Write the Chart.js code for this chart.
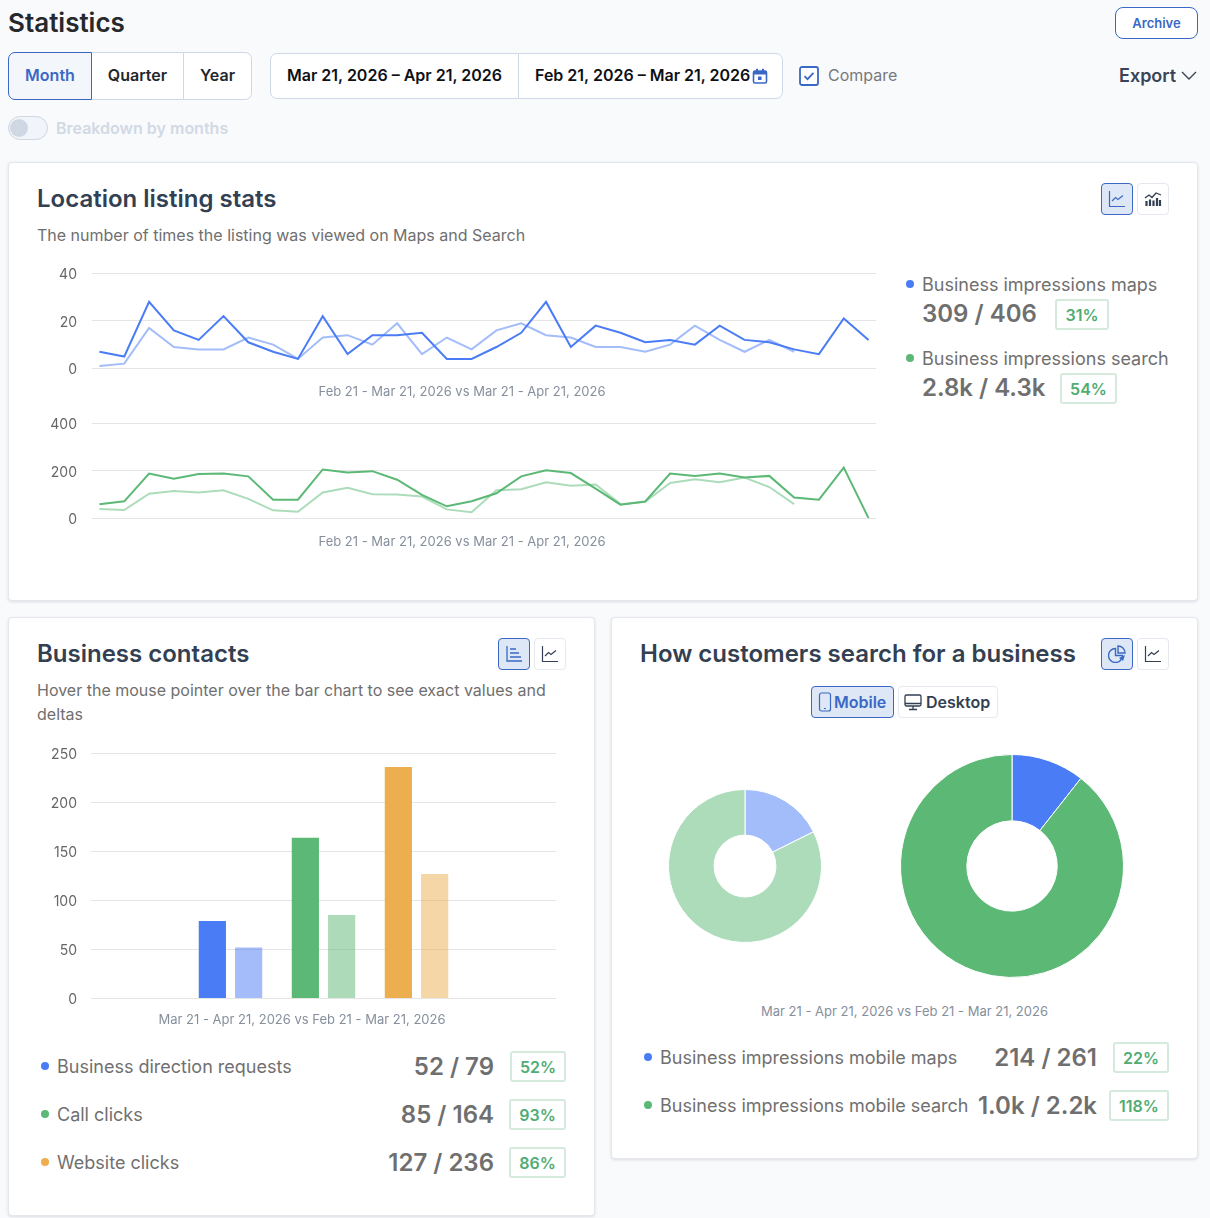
<!DOCTYPE html>
<html>
<head>
<meta charset="utf-8">
<script src="https://cdn.jsdelivr.net/npm/chart.js@4"></script>
<style>
* { box-sizing: border-box; }
html, body { margin: 0; padding: 0; }
body { width: 1210px; height: 1218px; background: #f9fafc; font-family: Inter, sans-serif; position: relative; overflow: hidden; color: #2f3a4d; }
.abs { position: absolute; white-space: nowrap; }
.card { position: absolute; background: #fff; border: 1px solid #e4e7ec; border-radius: 4px; box-shadow: 0 1px 3px rgba(40,50,70,.14); }
.title { font-size: 24px; font-weight: 600; color: #333f52; line-height: 30px; }
.sub { font-size: 16px; color: #6f6f6f; line-height: 24px; }
.seg { position: absolute; display: flex; align-items: center; justify-content: center; font-size: 16px; font-weight: 600; color: #24272c; background: #fff; border: 1px solid #cfd8e6; padding-bottom: 2px; }
.ic { position: absolute; width: 32px; height: 32px; border: 1px solid #e4e8ef; border-radius: 4px; background: #fff; display: flex; align-items: center; justify-content: center; }
.ic.on { background: #dde7f6; border-color: #3b68c4; }
.dot { position: absolute; width: 8px; height: 8px; border-radius: 50%; }
.lab { font-size: 18px; color: #707070; line-height: 24px; }
.val { font-size: 24px; font-weight: 600; color: #6f6f6f; line-height: 30px; }
.badge { position: absolute; height: 31px; border: 2px solid #d5eadd; border-radius: 3px; background: #fff; color: #4fac73; font-size: 16px; font-weight: 600; display: flex; align-items: center; justify-content: center; }
canvas { position: absolute; }
.wrap { position: absolute; }
</style>
</head>
<body>
<div class="abs" style="left:8px;top:7px;font-size:26px;font-weight:600;color:#25282c;line-height:32px">Statistics</div>
<div class="abs" style="left:1115px;top:7px;width:83px;height:32px;border:1px solid #3b68c4;border-radius:8px;background:#fff;color:#3b68c4;font-size:13px;font-weight:600;display:flex;align-items:center;justify-content:center;padding-bottom:1px">Archive</div>

<div class="seg" style="left:91px;top:52px;width:93px;height:48px">Quarter</div>
<div class="seg" style="left:8px;top:52px;width:84px;height:48px;border-radius:7px 0 0 7px;background:#f3f6fb;border-color:#3b68c4;color:#3b68c4">Month</div>
<div class="seg" style="left:183px;top:52px;width:69px;height:48px;border-radius:0 7px 7px 0">Year</div>
<div class="seg" style="left:270px;top:53px;width:249px;height:46px;border-radius:7px 0 0 7px;color:#0e1014">Mar 21, 2026 – Apr 21, 2026</div>
<div class="seg" style="left:518px;top:53px;width:265px;height:46px;border-radius:0 7px 7px 0;border-left:1px solid #cfd8e6;color:#0e1014;justify-content:flex-start;padding-left:16px">Feb 21, 2026 – Mar 21, 2026</div>
<svg class="abs" style="left:752px;top:68px" width="16" height="16" viewBox="0 0 16 16"><rect x="1.5" y="3" width="13" height="12" rx="1.5" fill="none" stroke="#3b68c4" stroke-width="1.6"/><rect x="1.5" y="3" width="13" height="3.5" fill="#3b68c4"/><rect x="4" y="0.8" width="2" height="3" fill="#3b68c4"/><rect x="10" y="0.8" width="2" height="3" fill="#3b68c4"/><rect x="6" y="8.5" width="3.5" height="3.5" fill="#3b68c4"/></svg>
<svg class="abs" style="left:799px;top:66px" width="20" height="20" viewBox="0 0 20 20"><rect x="1" y="1" width="18" height="18" rx="2" fill="#fff" stroke="#3b68c4" stroke-width="1.8"/><path d="M5.5 10.2l3 3 6-6.4" fill="none" stroke="#3b68c4" stroke-width="1.8"/></svg>
<div class="abs" style="left:828px;top:64px;font-size:16px;color:#77797d;line-height:22px">Compare</div>
<div class="abs" style="left:1119px;top:64px;font-size:18px;font-weight:600;color:#3a4456;line-height:24px">Export</div>
<svg class="abs" style="left:1181px;top:71px" width="16" height="10" viewBox="0 0 16 10"><path d="M1 1l7 7 7-7" fill="none" stroke="#3a4456" stroke-width="1.4"/></svg>

<div class="abs" style="left:8px;top:116px;width:40px;height:24px;border:1px solid #cfd8e6;border-radius:12px;background:#f1f4f9"></div>
<div class="abs" style="left:10px;top:119px;width:18px;height:18px;border-radius:50%;background:#cfd7e3"></div>
<div class="abs" style="left:56px;top:117px;font-size:16px;font-weight:600;color:#d1d9e5;line-height:22px">Breakdown by months</div>

<!-- location listing -->
<div class="card" style="left:8px;top:162px;width:1190px;height:439px"></div>
<div class="abs title" style="left:37px;top:184px">Location listing stats</div>
<div class="abs sub" style="left:37px;top:223px">The number of times the listing was viewed on Maps and Search</div>
<div class="ic on" style="left:1101px;top:183px"><svg width="18" height="18" viewBox="0 0 18 18"><path d="M1.5 1v15.5H17" fill="none" stroke="#3b68c4" stroke-width="1.2"/><path d="M4 11l3.5-3.5 2.5 2 5-4" fill="none" stroke="#3b68c4" stroke-width="1.2"/></svg></div>
<div class="ic" style="left:1137px;top:183px"><svg width="18" height="18" viewBox="0 0 18 18"><path d="M1 8l4-3 3 2.5L12 3l5 2" fill="none" stroke="#333f52" stroke-width="1.3"/><path d="M2.5 11v5M6 9.5V16M9.5 10.5V16M13 8V16M16 10V16" stroke="#333f52" stroke-width="2.2"/></svg></div>
<div class="wrap" style="left:48px;top:250px;width:828px;height:156px"><canvas id="mapsChart"></canvas></div>
<div class="wrap" style="left:48px;top:400px;width:828px;height:156px"><canvas id="searchChart"></canvas></div>

<div class="dot" style="left:906px;top:280px;background:#4a7cf6"></div>
<div class="abs lab" style="left:922px;top:273px">Business impressions maps</div>
<div class="abs val" style="left:922px;top:299px">309 / 406</div>
<div class="badge" style="left:1055px;top:299px;width:54px">31%</div>
<div class="dot" style="left:906px;top:354px;background:#5cb875"></div>
<div class="abs lab" style="left:922px;top:347px">Business impressions search</div>
<div class="abs val" style="left:922px;top:373px">2.8k / 4.3k</div>
<div class="badge" style="left:1060px;top:373px;width:57px">54%</div>

<!-- contacts -->
<div class="card" style="left:8px;top:617px;width:587px;height:599px"></div>
<div class="abs title" style="left:37px;top:639px">Business contacts</div>
<div class="abs sub" style="left:37px;top:678px">Hover the mouse pointer over the bar chart to see exact values and</div>
<div class="abs sub" style="left:37px;top:702px">deltas</div>
<div class="ic on" style="left:498px;top:638px"><svg width="18" height="18" viewBox="0 0 18 18"><path d="M2 1v15h15" fill="none" stroke="#3b68c4" stroke-width="1.3"/><path d="M5 4h6M5 8h9M5 12h11" stroke="#3b68c4" stroke-width="1.3"/></svg></div>
<div class="ic" style="left:534px;top:638px"><svg width="18" height="18" viewBox="0 0 18 18"><path d="M1.5 1v15.5H17" fill="none" stroke="#333f52" stroke-width="1.2"/><path d="M4 11l3.5-3.5 2.5 2 5-4" fill="none" stroke="#333f52" stroke-width="1.2"/></svg></div>
<div class="wrap" style="left:48px;top:731px;width:508px;height:303px"><canvas id="contactsChart"></canvas></div>

<div class="dot" style="left:41px;top:1062px;background:#4a7cf6"></div>
<div class="abs lab" style="left:57px;top:1055px">Business direction requests</div>
<div class="abs val" style="right:716px;top:1052px">52 / 79</div>
<div class="badge" style="left:510px;top:1051px;width:56px">52%</div>
<div class="dot" style="left:41px;top:1110px;background:#5cb875"></div>
<div class="abs lab" style="left:57px;top:1103px">Call clicks</div>
<div class="abs val" style="right:716px;top:1100px">85 / 164</div>
<div class="badge" style="left:509px;top:1099px;width:57px">93%</div>
<div class="dot" style="left:41px;top:1158px;background:#ecae4e"></div>
<div class="abs lab" style="left:57px;top:1151px">Website clicks</div>
<div class="abs val" style="right:716px;top:1148px">127 / 236</div>
<div class="badge" style="left:509px;top:1147px;width:57px">86%</div>

<!-- search -->
<div class="card" style="left:611px;top:617px;width:587px;height:542px"></div>
<div class="abs title" style="left:640px;top:639px">How customers search for a business</div>
<div class="ic on" style="left:1101px;top:638px"><svg width="18" height="18" viewBox="0 0 18 18"><path d="M7.5 3.5a7 7 0 1 0 7 7h-7z" fill="none" stroke="#3b68c4" stroke-width="1.4"/><path d="M10 1a7 7 0 0 1 7 7h-7z" fill="none" stroke="#3b68c4" stroke-width="1.4"/><path d="M17 10l-2 6-4-3z" fill="#3b68c4"/></svg></div>
<div class="ic" style="left:1137px;top:638px"><svg width="18" height="18" viewBox="0 0 18 18"><path d="M1.5 1v15.5H17" fill="none" stroke="#333f52" stroke-width="1.2"/><path d="M4 11l3.5-3.5 2.5 2 5-4" fill="none" stroke="#333f52" stroke-width="1.2"/></svg></div>
<div class="ic on" style="left:811px;top:686px;width:83px;justify-content:flex-start;padding-left:6px;color:#3b68c4;font-size:16px;font-weight:600"><svg width="14" height="20" viewBox="0 0 14 20" style="margin-right:2px"><rect x="1.5" y="1" width="11" height="18" rx="2" fill="none" stroke="#3b68c4" stroke-width="1.2"/><path d="M6 16.5h2" stroke="#3b68c4"/></svg>Mobile</div>
<div class="ic" style="left:898px;top:686px;width:100px;justify-content:flex-start;padding-left:5px;color:#333f52;font-size:16px;font-weight:600"><svg width="18" height="18" viewBox="0 0 18 18" style="margin-right:4px"><rect x="1" y="2" width="16" height="11" rx="1.5" fill="none" stroke="#333f52" stroke-width="1.3"/><path d="M1 10.5h16M9 13v3M5 16.5h8" stroke="#333f52" stroke-width="1.3"/></svg>Desktop</div>
<div class="wrap" style="left:668px;top:789px;width:154px;height:154px"><canvas id="pieBefore"></canvas></div>
<div class="wrap" style="left:900px;top:754px;width:224px;height:224px"><canvas id="pieNow"></canvas></div>
<div class="abs" style="left:761px;top:1002px;font-size:13px;color:#868f9c;line-height:18px">Mar 21 - Apr 21, 2026 vs Feb 21 - Mar 21, 2026</div>

<div class="dot" style="left:644px;top:1053px;background:#4a7cf6"></div>
<div class="abs lab" style="left:660px;top:1046px">Business impressions mobile maps</div>
<div class="abs val" style="right:113px;top:1043px">214 / 261</div>
<div class="badge" style="left:1113px;top:1042px;width:56px">22%</div>
<div class="dot" style="left:644px;top:1101px;background:#5cb875"></div>
<div class="abs lab" style="left:660px;top:1094px">Business impressions mobile search</div>
<div class="abs val" style="right:113px;top:1091px">1.0k / 2.2k</div>
<div class="badge" style="left:1109px;top:1090px;width:60px">118%</div>

<script>
'use strict';

// location listing stats, one point per day
const days = ["1","2","3","4","5","6","7","8","9","10","11","12","13","14","15","16","17","18","19","20","21","22","23","24","25","26","27","28","29","30","31","32"];
const mapsCurrent = [7,5,28,16,12,22,11,7,4,22,6,14,14,15,4,4,9,15,28,9,18,15,11,12,10,18,12,11,8,6,21,12];
const mapsPrevious = [1,2,17,9,8,8,13,10,4,13,14,10,19,6,13,8,16,19,14,13,9,9,7,10,18,12,7,12,7];
const searchCurrent = [60,72,189,167,187,189,177,79,79,206,193,199,163,99,51,72,106,177,203,191,125,58,71,189,179,189,172,179,88,79,214,1];
const searchPrevious = [40,35,104,115,109,118,82,34,28,109,129,102,101,92,38,26,119,123,152,138,143,60,70,149,165,152,172,132,60];
const mapsTicks = [0,20,40];
const searchTicks = [0,200,400];

// business contacts
const contactCategories = ["", "Business direction requests", "Call clicks", "Website clicks", ""];
const contactsCurrent = [null,79,164,236,null];
const contactsPrevious = [null,52,85,127,null];
const contactTicks = [0,50,100,150,200,250];

// how customers search
const pieLabels = ["Business impressions mobile maps", "Business impressions mobile search"];
const pieBeforeValues = [214,1000];
const pieNowValues = [261,2200];

const tickColor = "#666";
const gridColor = "#e5e5e5";
const captionColor = "#868f9c";
const fontName = "Inter";
Chart.defaults.font.family = fontName;
Chart.defaults.animation = false;
Chart.defaults.responsive = true;
Chart.defaults.maintainAspectRatio = false;

function lineChart(id, current, previous, ticks, strong, soft) {
  new Chart(id, {
    type: "line",
    data: {
      labels: days,
      datasets: [
        { data: current.map((v, i) => ({ x: i, y: v })), borderColor: strong, borderWidth: 2, pointRadius: 0, tension: 0 },
        { data: previous.map((v, i) => ({ x: i, y: v })), borderColor: soft, borderWidth: 2, pointRadius: 0, tension: 0 }
      ]
    },
    options: {
      layout: { padding: 0 },
      plugins: {
        legend: { display: false },
        tooltip: { enabled: false },
        title: {
          display: true,
          position: "bottom",
          text: "Feb 21 - Mar 21, 2026 vs Mar 21 - Apr 21, 2026",
          color: captionColor,
          font: { size: 13, weight: "normal" },
          padding: { top: 16, bottom: 6 }
        }
      },
      scales: {
        x: { type: "linear", min: -0.3, max: 31.3, display: false },
        y: {
          min: 0, max: ticks[2],
          afterBuildTicks: (axis) => { axis.ticks = ticks.map(v => ({ value: v })); },
          afterFit: (axis) => { axis.width = 44; },
          border: { display: false },
          grid: { color: gridColor, drawTicks: false },
          ticks: { color: tickColor, font: { size: 14 }, padding: 15, labelOffset: 1.5 }
        }
      }
    }
  });
}

lineChart("mapsChart", mapsCurrent, mapsPrevious, mapsTicks, "#4a7cf6", "#a3bcfa");
lineChart("searchChart", searchCurrent, searchPrevious, searchTicks, "#5cb875", "#acdcba");

new Chart("contactsChart", {
  type: "bar",
  data: {
    labels: contactCategories,
    datasets: [
      { data: contactsCurrent, backgroundColor: ["#4a7cf6","#4a7cf6","#5cb875","#ecae4e","#ecae4e"] },
      { data: contactsPrevious, backgroundColor: ["rgba(74,124,246,.5)","rgba(74,124,246,.5)","rgba(92,184,117,.5)","rgba(236,174,78,.5)","rgba(236,174,78,.5)"] }
    ]
  },
  options: {
    categoryPercentage: 0.78,
    barPercentage: 0.75,
    plugins: {
      legend: { display: false },
      tooltip: { enabled: false },
      title: {
        display: true,
        position: "bottom",
        text: "Mar 21 - Apr 21, 2026 vs Feb 21 - Mar 21, 2026",
        color: captionColor,
        font: { size: 13, weight: "normal" },
        padding: { top: 14, bottom: 6 }
      }
    },
    scales: {
      x: { display: false },
      y: {
        min: 0, max: 250,
        afterBuildTicks: (axis) => { axis.ticks = contactTicks.map(v => ({ value: v })); },
        afterFit: (axis) => { axis.width = 43; },
        border: { display: false },
        grid: { color: gridColor, drawTicks: false },
        ticks: { color: tickColor, font: { size: 14 }, padding: 14, labelOffset: 1 }
      }
    }
  }
});

function pieChart(id, values, colors) {
  new Chart(id, {
    type: "doughnut",
    data: { labels: pieLabels, datasets: [{ data: values, backgroundColor: colors, borderColor: "#fff", borderWidth: 1 }] },
    options: {
      cutout: "40.5%",
      plugins: { legend: { display: false }, tooltip: { enabled: false } }
    }
  });
}

pieChart("pieBefore", pieBeforeValues, ["#a3bcfa", "#acdcba"]);
pieChart("pieNow", pieNowValues, ["#4a7cf6", "#5cb875"]);
</script>
</body>
</html>
